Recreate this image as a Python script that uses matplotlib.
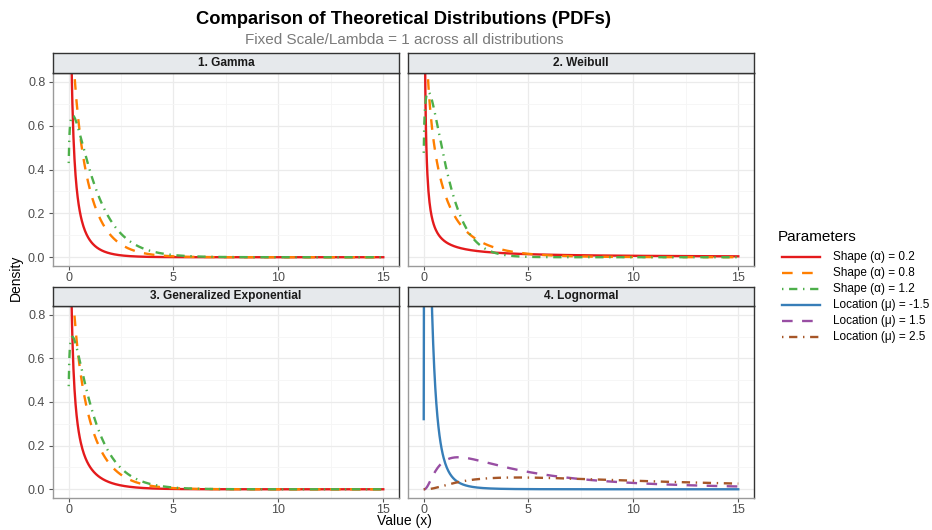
import math
import numpy as np
import matplotlib
matplotlib.use("Agg")
import matplotlib.pyplot as plt
from matplotlib.lines import Line2D

plt.rcParams['font.family'] = ['Liberation Sans', 'DejaVu Sans']

# ---- data ----
panel_titles = ["1. Gamma", "2. Weibull", "3. Generalized Exponential", "4. Lognormal"]
shape_params = [0.2, 0.8, 1.2]          # alpha for Gamma / Weibull / GE
lognormal_locs = [-1.5, 1.5, 2.5]       # mu for Lognormal
lognormal_sigma = 1.0
scale_lambda = 1.0
x_min, x_max, n_points = 0.01, 15.0, 600
shape_labels = ["Shape (α) = 0.2", "Shape (α) = 0.8", "Shape (α) = 1.2"]
loc_labels = ["Location (μ) = -1.5", "Location (μ) = 1.5", "Location (μ) = 2.5"]
x_ticks = [0, 5, 10, 15]
y_ticks = [0.0, 0.2, 0.4, 0.6, 0.8]

shape_colors = ["#E41A1C", "#FF7F00", "#4DAF4A"]
loc_colors = ["#377EB8", "#984EA3", "#A65628"]
LW = 1.7
dash_styles = [(None), (0, (4.5, 4)), (0, (0.6, 2.4, 3.5, 2.4))]

x = np.linspace(x_min, x_max, n_points)


def gamma_pdf(x, a, lam):
    return (lam ** a) * x ** (a - 1) * np.exp(-lam * x) / math.gamma(a)


def weibull_pdf(x, k, lam):
    return (k / lam) * (x / lam) ** (k - 1) * np.exp(-(x / lam) ** k)


def genexp_pdf(x, a, lam):
    return a * lam * (1 - np.exp(-lam * x)) ** (a - 1) * np.exp(-lam * x)


def lognorm_pdf(x, mu, s):
    return np.exp(-(np.log(x) - mu) ** 2 / (2 * s * s)) / (x * s * math.sqrt(2 * math.pi))


W, H = 932, 530
fig = plt.figure(figsize=(W / 100, H / 100), dpi=100)


def fx(px):
    return px / W


def fy(py):
    return 1 - py / H


panels = [
    (53, 399, 73, 266, 53),
    (408, 754, 73, 266, 53),
    (53, 399, 306, 498, 287),
    (408, 754, 306, 498, 287),
]

for i, (l, r, t, b, st) in enumerate(panels):
    ax = fig.add_axes([fx(l), fy(b), fx(r) - fx(l), fy(t) - fy(b)])
    if i == 0:
        for a, c, ls in zip(shape_params, shape_colors, dash_styles):
            ax.plot(x, gamma_pdf(x, a, scale_lambda), color=c, lw=LW,
                    linestyle=ls if ls else '-')
    elif i == 1:
        for a, c, ls in zip(shape_params, shape_colors, dash_styles):
            ax.plot(x, weibull_pdf(x, a, scale_lambda), color=c, lw=LW,
                    linestyle=ls if ls else '-')
    elif i == 2:
        for a, c, ls in zip(shape_params, shape_colors, dash_styles):
            ax.plot(x, genexp_pdf(x, a, scale_lambda), color=c, lw=LW,
                    linestyle=ls if ls else '-')
    else:
        for mu, c, ls in zip(lognormal_locs, loc_colors, dash_styles):
            ax.plot(x, lognorm_pdf(x, mu, lognormal_sigma), color=c, lw=LW,
                    linestyle=ls if ls else '-')

    span = x_max - x_min
    ax.set_xlim(x_min - 0.05 * span, x_max + 0.05 * span)
    ax.set_ylim(-0.04, 0.84)
    ax.set_xticks(x_ticks)
    ax.set_xticks([2.5, 7.5, 12.5], minor=True)
    ax.set_yticks(y_ticks)
    ax.set_yticks([0.1, 0.3, 0.5, 0.7], minor=True)
    ax.grid(True, which='major', color='#EBEBEB', lw=0.9)
    ax.grid(True, which='minor', color='#F5F5F5', lw=0.6)
    ax.set_axisbelow(True)
    ax.tick_params(which='minor', length=0)
    ax.tick_params(which='major', length=3, width=0.8, color='#555555',
                   labelsize=9, labelcolor='#4D4D4D', pad=2.5)
    ax.tick_params(axis='x', pad=1.2)
    if i in (1, 3):
        ax.set_yticklabels([])
        ax.tick_params(axis='y', length=0)
    else:
        ax.set_yticklabels([f"{v:.1f}" for v in y_ticks])
    for side in ('left', 'bottom'):
        ax.spines[side].set_color('#9A9A9A')
        ax.spines[side].set_linewidth(1.0)
    for side in ('right', 'top'):
        ax.spines[side].set_color('#333333')
        ax.spines[side].set_linewidth(1.0)

    # strip
    sax = fig.add_axes([fx(l), fy(t), fx(r) - fx(l), fy(st) - fy(t)])
    sax.set_facecolor('#E6E9EC')
    sax.set_xticks([])
    sax.set_yticks([])
    for sp in sax.spines.values():
        sp.set_color('#333333')
        sp.set_linewidth(1.0)
    sax.text(0.5, 0.5, panel_titles[i], ha='center', va='center',
             fontsize=8.6, fontweight='bold', color='#1A1A1A',
             transform=sax.transAxes)

# titles
fig.text(fx(404), fy(20), "Comparison of Theoretical Distributions (PDFs)",
         ha='center', va='center', fontsize=13.2, fontweight='bold', color='black')
fig.text(fx(404), fy(40), "Fixed Scale/Lambda = 1 across all distributions",
         ha='center', va='center', fontsize=11, color='#7A7A7A')
fig.text(fx(404), fy(528), "Value (x)", ha='center', va='bottom',
         fontsize=10, color='black')
fig.text(fx(16), fy(278), "Density", ha='center', va='center',
         fontsize=10, color='black', rotation=90)

# legend
fig.text(fx(778), fy(237), "Parameters", ha='left', va='center',
         fontsize=11, color='black')
leg_labels = shape_labels + loc_labels
leg_colors = shape_colors + loc_colors
leg_styles = dash_styles + dash_styles
for k, (lab, c, ls) in enumerate(zip(leg_labels, leg_colors, leg_styles)):
    yy = 257 + k * 16
    fig.add_artist(Line2D([fx(782), fx(820)], [fy(yy), fy(yy)], color=c, lw=LW,
                          linestyle=ls if ls else '-', transform=fig.transFigure))
    fig.text(fx(833), fy(yy), lab, ha='left', va='center', fontsize=8.5,
             color='black')

fig.savefig("out.png", dpi=100)
